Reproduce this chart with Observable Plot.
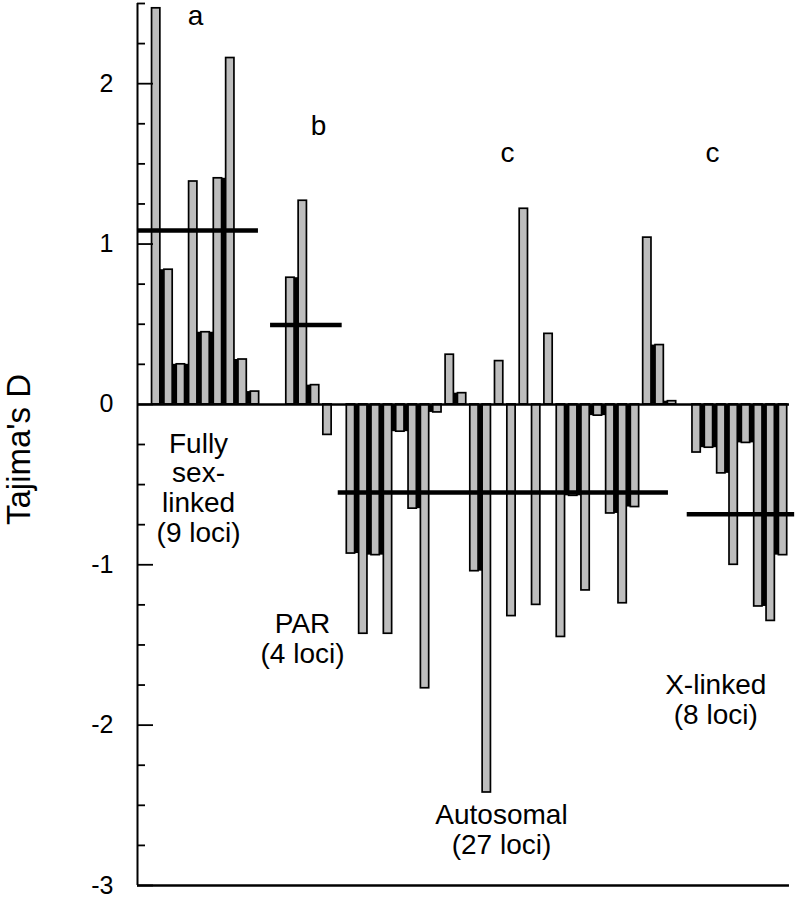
<!DOCTYPE html>
<html>
<head>
<meta charset="utf-8">
<script src="https://cdn.jsdelivr.net/npm/d3@7"></script>
<script src="https://cdn.jsdelivr.net/npm/@observablehq/plot@0.6"></script>
<style>
  html, body { margin: 0; padding: 0; background: #fff; }
</style>
</head>
<body>
<div id="chart"></div>
<script>
// ---------- data ----------
const groupNames = ["Fully sex-linked", "PAR", "Autosomal", "X-linked"];
const fullySexLinked = [2.47, 0.84, 0.25, 1.39, 0.45, 1.41, 2.16, 0.28, 0.08];
const par = [0.79, 1.27, 0.12, -0.19];
const autosomal = [-0.93, -1.43, -0.94, -1.43, -0.17, -0.65, -1.77, -0.05, 0.31, 0.07,
                   -1.04, -2.42, 0.27, -1.32, 1.22, -1.25, 0.44, -1.45, -0.57, -1.16,
                   -0.07, -0.68, -1.24, -0.64, 1.04, 0.37, 0.02];
const xLinked = [-0.30, -0.27, -0.43, -1.00, -0.24, -1.26, -1.35, -0.94];
const groupMeans = [1.085, 0.495, -0.55, -0.685];
const groupLetters = ["a", "b", "c", "c"];
const groupLabels = ["Fully\nsex-\nlinked\n(9 loci)", "PAR\n(4 loci)", "Autosomal\n(27 loci)", "X-linked\n(8 loci)"];
const yTickValues = [-3, -2, -1, 0, 1, 2];
const yLabel = "Tajima's D";

// ---------- layout (slot positions along x, not data) ----------
const groupStart = [0, 10.87, 15.77, 43.76];
const meanSpan = [[-1.51, 8.28], [9.26, 15.06], [14.74, 41.48], [43.0, 51.7]];
const letterPos = [[3.18, 2.419], [13.14, 1.733], [28.45, 1.565], [45.05, 1.565]];
const labelPos = [[3.43, -0.519], [11.85, -1.459], [27.96, -2.652], [45.31, -1.841]];
const X0 = -1.514, XMAX = 51.93, ZEND = 51.28;
const HALF = 0.336;

const seriesList = [fullySexLinked, par, autosomal, xLinked];
const bars = seriesList.flatMap((vals, g) =>
  vals.map((v, i) => ({group: groupNames[g], p: groupStart[g] + i, v})));
const joins = seriesList.flatMap((vals, g) =>
  vals.slice(0, -1).flatMap((a, i) => {
    const b = vals[i + 1];
    if (a * b <= 0) return [];
    const m = Math.sign(a) * Math.min(Math.abs(a), Math.abs(b));
    return [{p: groupStart[g] + i, v: m}];
  }));
const means = groupMeans.map((m, g) => ({m, a: meanSpan[g][0], b: meanSpan[g][1]}));
const letters = groupLetters.map((t, g) => ({t, x: letterPos[g][0], y: letterPos[g][1]}));
const labels = groupLabels.map((t, g) => ({t, x: labelPos[g][0], y: labelPos[g][1]}));
const minorTicks = d3.range(-3, 2.5001, 0.25).filter(v => !yTickValues.includes(v));

const chart = Plot.plot({
  width: 797,
  height: 898,
  marginLeft: 137,
  marginRight: 0,
  marginTop: 3,
  marginBottom: 13,
  style: {fontFamily: "'Liberation Sans', Arial, Helvetica, sans-serif", background: "#fff", color: "#000", overflow: "visible"},
  x: {type: "linear", domain: [X0, XMAX], axis: null},
  y: {domain: [-3, 2.5]},
  marks: [
    Plot.rect(joins, {x1: d => d.p + HALF, x2: d => d.p + 1 - HALF, y1: 0, y2: d => d.v, fill: "#000"}),
    Plot.rect(bars, {x1: d => d.p - HALF, x2: d => d.p + HALF, y1: 0, y2: d => d.v,
                     fill: "#bdbdbd", stroke: "#000", strokeWidth: 1.7}),
    Plot.ruleY([0], {x1: X0, x2: ZEND, stroke: "#000", strokeWidth: 2.5}),
    Plot.ruleY([-3], {x1: X0, x2: ZEND, stroke: "#000", strokeWidth: 2.5}),
    Plot.ruleY(means, {y: "m", x1: "a", x2: "b", stroke: "#000", strokeWidth: 4.5}),
    Plot.ruleX([X0], {y1: -3, y2: 2.5, stroke: "#000", strokeWidth: 2}),
    Plot.ruleY(yTickValues, {x1: X0, x2: X0 + 16 / 12.35, stroke: "#000", strokeWidth: 1.8}),
    Plot.ruleY(minorTicks, {x1: X0, x2: X0 + 8 / 12.35, stroke: "#000", strokeWidth: 1.8}),
    Plot.axisY({ticks: yTickValues, tickSize: 0, tickPadding: 24, fontSize: 25,
                label: null, tickFormat: d => String(d)}),
    Plot.text([yLabel], {x: -11.1, y: -0.281, text: d => d, rotate: -90, fontSize: 33}),
    Plot.text(letters, {x: "x", y: "y", text: "t", fontSize: 28}),
    Plot.text(labels, {x: "x", y: "y", text: "t", fontSize: 28, lineHeight: 1.06})
  ]
});
document.getElementById("chart").appendChild(chart);
</script>
</body>
</html>
